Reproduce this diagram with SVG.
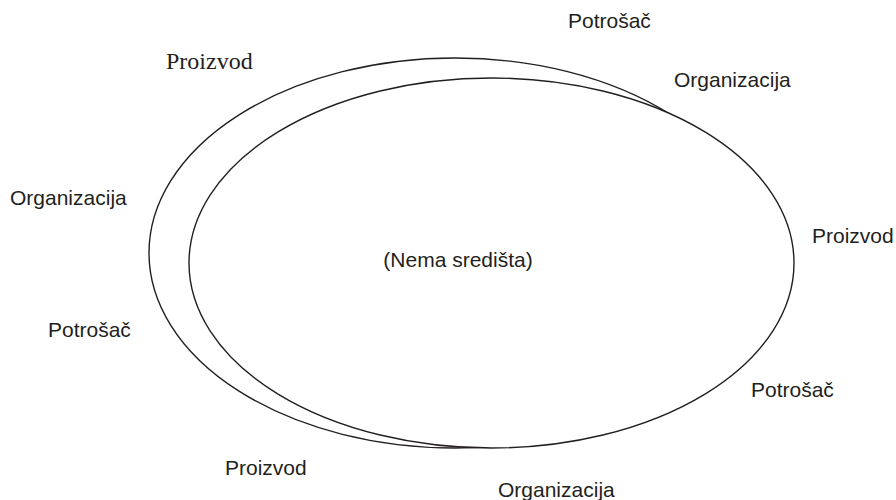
<svg xmlns="http://www.w3.org/2000/svg" width="896" height="500" viewBox="0 0 896 500">
<style>
.lbl{font-family:"Liberation Sans",Arial,sans-serif;font-size:21px;fill:#231f20}
.ser{font-family:"Liberation Serif","Times New Roman",serif;font-size:24px;fill:#231f20}
.ell{fill:none;stroke:#231f20;stroke-width:1.4}
</style>
<rect width="896" height="500" fill="#ffffff"/>
<g id="connectors">
<g id="outer-ellipse"><ellipse class="ell" cx="455" cy="253" rx="306" ry="195"/></g>
<g id="inner-ellipse"><ellipse class="ell" cx="491.5" cy="263" rx="302.5" ry="185" style="fill:#ffffff"/></g>
</g>
<g id="center"><text class="lbl" x="458" y="267" text-anchor="middle">(Nema središta)</text></g>
<g id="t1"><text class="lbl" x="568" y="28">Potrošač</text></g>
<g id="t2"><text class="ser" x="166" y="69">Proizvod</text></g>
<g id="t3"><text class="lbl" x="674" y="87">Organizacija</text></g>
<g id="t4"><text class="lbl" x="10" y="205">Organizacija</text></g>
<g id="t5"><text class="lbl" x="812" y="243">Proizvod</text></g>
<g id="t6"><text class="lbl" x="48" y="337">Potrošač</text></g>
<g id="t7"><text class="lbl" x="751" y="397">Potrošač</text></g>
<g id="t8"><text class="lbl" x="225" y="475">Proizvod</text></g>
<g id="t9"><text class="lbl" x="498" y="497">Organizacija</text></g>
</svg>
